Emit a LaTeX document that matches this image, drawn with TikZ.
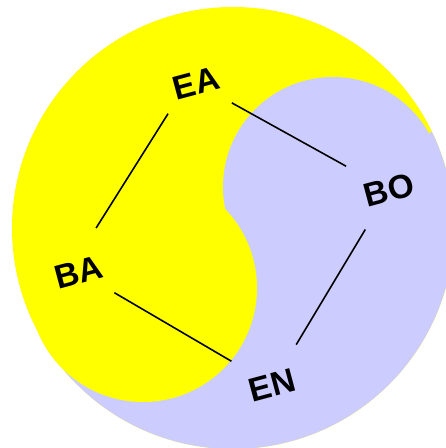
\documentclass[tikz,border=0pt]{standalone}
\usepackage{fontspec}
\setmainfont{Liberation Sans}
\definecolor{yinfill}{RGB}{255,255,0}
\definecolor{yangfill}{RGB}{204,204,255}
\tikzset{
  region/.style={font=\fontsize{9.5}{11}\selectfont\bfseries, inner sep=0pt, rotate=15},
  link/.style={line width=0.45pt}
}

\begin{document}
\begin{tikzpicture}[x=0.01cm, y=-0.01cm]
			\useasboundingbox (0,0) rectangle (446,448);

			% big disc, upper left half
			\fill[yinfill] (233,228) circle[radius=221];

			% lower right half
			\begin{scope}
				\clip (233,228) circle[radius=221];
				\fill[yangfill] (49,351) -- (225,215) -- (430,133) -- (480,90)
					-- (480,480) -- (0,480) -- (0,400) -- cycle;
			\end{scope}

			% the two small discs
			\fill[yangfill] (333,187) circle[radius=110];
			\fill[yinfill] (143,288) circle[radius=114];

			\node[region] (EA) at (196,83) {EA};
			\node[region] (BO) at (389,190) {BO};
			\node[region] (BA) at (79,272) {BA};
			\node[region] (EN) at (272,385) {EN};

			\draw[link, shorten <=0.15cm, shorten >=0.38cm] (EA.south west) -- (BA.north);
			\draw[link, shorten <=0.41cm, shorten >=0.49cm] (EA.center) -- (BO.center);
			\draw[link, shorten <=0.46cm, shorten >=0.47cm] (BO.center) -- (EN.center);
			\draw[link, shorten <=0.41cm, shorten >=0.47cm] (BA.center) -- (EN.center);

		\end{tikzpicture}
\end{document}
